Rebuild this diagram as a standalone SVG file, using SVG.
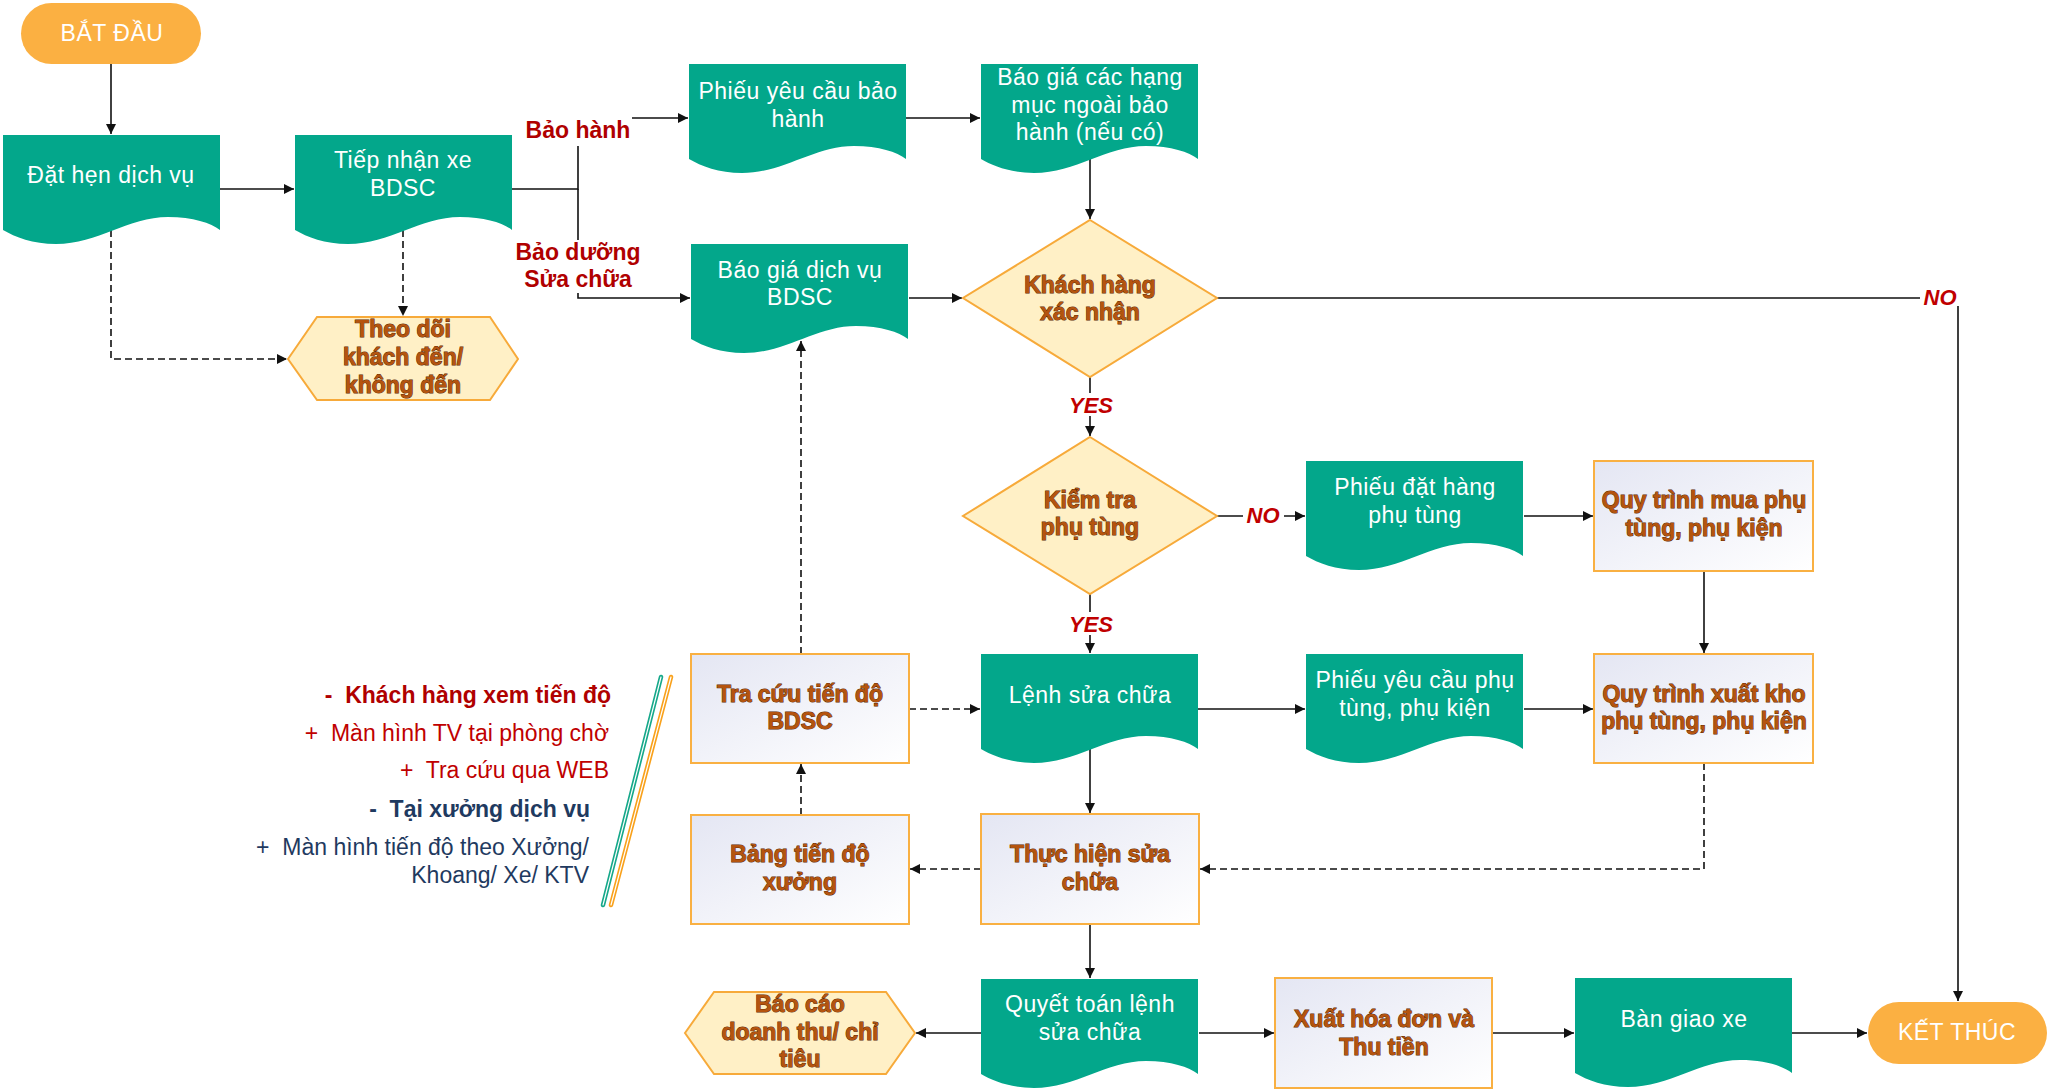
<svg xmlns="http://www.w3.org/2000/svg" xmlns:xlink="http://www.w3.org/1999/xlink" width="2049" height="1090" viewBox="0 0 2049 1090">
<style>
.doc{fill:#03A78B}
.box{fill:url(#boxg);stroke:#F9B042;stroke-width:2}
.dec{fill:#FFF0C6;stroke:#F7AA3A;stroke-width:2}
.pill{fill:#FBB042}
text{font-family:"Liberation Sans",Arial,sans-serif;font-size:23px;text-anchor:middle}
.tw{fill:#FFFFFF;letter-spacing:0.5px}
.tb{fill:#B5540E;font-weight:bold;stroke:#5C2A05;stroke-width:1;paint-order:stroke}
.lbl{fill:#B00000;font-weight:bold}
.yn{fill:#C00000;font-weight:bold;font-style:italic;font-size:22px}
.lg{text-anchor:end}
.red{fill:#C00000}
.navy{fill:#1F3A60}
.c{fill:none;stroke:#111;stroke-width:1.6;marker-end:url(#ah)}
.d{stroke-dasharray:7 4}
.bg{fill:#FFFFFF}
</style>
<defs>
<marker id="ah" markerUnits="userSpaceOnUse" markerWidth="11" markerHeight="10" refX="10" refY="5" orient="auto">
<path d="M0,0 L10,5 L0,10 Z" fill="#111"/>
</marker>
<linearGradient id="boxg" x1="0" y1="0" x2="1" y2="1">
<stop offset="0" stop-color="#E4E6F3"/>
<stop offset="1" stop-color="#FFFFFF"/>
</linearGradient>
<path id="doc" d="M0,0 H217 V95 C208,88 190,82 165,82 C125,82 95,109 53,109 C30,109 12,102 0,95 Z"/>
</defs>
<rect width="2049" height="1090" fill="#FFFFFF"/>

<g id="connectors">
<path class="c" d="M111,64 V134"/>
<path class="c" d="M220,189 H294"/>
<path class="c" d="M512,189 H578 V118 H688"/>
<path class="c" d="M578,189 V298 H690"/>
<path class="c" d="M906,118 H980"/>
<path class="c" d="M1090,159 V219"/>
<path class="c" d="M909,298 H962"/>
<path class="c" d="M1217,298 H1958 V1001"/>
<path class="c" d="M1090,377 V436"/>
<path class="c" d="M1217,516 H1305"/>
<path class="c" d="M1090,594 V653"/>
<path class="c" d="M1524,516 H1593"/>
<path class="c" d="M1704,571 V653"/>
<path class="c" d="M1198,709 H1305"/>
<path class="c" d="M1524,709 H1593"/>
<path class="c d" d="M909,709 H980"/>
<path class="c d" d="M801,654 V341"/>
<path class="c" d="M1090,749 V813"/>
<path class="c d" d="M801,815 V764"/>
<path class="c d" d="M981,869 H910"/>
<path class="c d" d="M1704,763 V869 H1200"/>
<path class="c" d="M1090,924 V978"/>
<path class="c" d="M981,1033 H916"/>
<path class="c" d="M1199,1033 H1274"/>
<path class="c" d="M1492,1033 H1574"/>
<path class="c" d="M1792,1033 H1867"/>
<path class="c d" d="M111,230 V359 H287"/>
<path class="c d" d="M403,230 V316"/>
<g id="label-baohanh">
<rect class="bg" x="524" y="112" width="108" height="34"/>
<text class="lbl" x="578" y="138">Bảo hành</text>
</g>
<g id="label-baoduong">
<rect class="bg" x="513" y="240" width="131" height="53"/>
<text class="lbl" x="578" y="260">Bảo dưỡng</text>
<text class="lbl" x="578" y="287">Sửa chữa</text>
</g>
<g id="label-no1">
<rect class="bg" x="1920" y="286" width="42" height="20"/>
<text class="yn" x="1940" y="305">NO</text>
</g>
<g id="label-yes1">
<rect class="bg" x="1066" y="393" width="50" height="23"/>
<text class="yn" x="1091" y="413">YES</text>
</g>
<g id="label-no2">
<rect class="bg" x="1243" y="503" width="41" height="22"/>
<text class="yn" x="1263" y="523">NO</text>
</g>
<g id="label-yes2">
<rect class="bg" x="1066" y="612" width="50" height="23"/>
<text class="yn" x="1091" y="632">YES</text>
</g>
</g>

<g id="n-batdau">
<rect class="pill" x="21" y="3" width="180" height="61" rx="30.5"/>
<text class="tw" x="112" y="41">BẮT ĐẦU</text>
</g>
<g id="n-dathen">
<use href="#doc" xlink:href="#doc" class="doc" x="3" y="135"/>
<text class="tw" x="111" y="183">Đặt hẹn dịch vụ</text>
</g>
<g id="n-tiepnhan">
<use href="#doc" xlink:href="#doc" class="doc" x="295" y="135"/>
<text class="tw" x="403" y="168">Tiếp nhận xe</text>
<text class="tw" x="403" y="196">BDSC</text>
</g>
<g id="n-theodoi">
<polygon class="dec" points="288,359 317,317 490,317 518,359 490,400 317,400"/>
<text class="tb" x="403" y="337">Theo dõi</text>
<text class="tb" x="403" y="365">khách đến/</text>
<text class="tb" x="403" y="393">không đến</text>
</g>
<g id="n-phieubaohanh">
<use href="#doc" xlink:href="#doc" class="doc" x="689" y="64"/>
<text class="tw" x="798" y="99">Phiếu yêu cầu bảo</text>
<text class="tw" x="798" y="127">hành</text>
</g>
<g id="n-baogiangoai">
<use href="#doc" xlink:href="#doc" class="doc" x="981" y="64"/>
<text class="tw" x="1090" y="85">Báo giá các hạng</text>
<text class="tw" x="1090" y="113">mục ngoài bảo</text>
<text class="tw" x="1090" y="140">hành (nếu có)</text>
</g>
<g id="n-baogiadv">
<use href="#doc" xlink:href="#doc" class="doc" x="691" y="244"/>
<text class="tw" x="800" y="278">Báo giá dịch vụ</text>
<text class="tw" x="800" y="305">BDSC</text>
</g>
<g id="n-khachhang">
<polygon class="dec" points="1090,220 1217,298 1090,377 963,298"/>
<text class="tb" x="1090" y="293">Khách hàng</text>
<text class="tb" x="1090" y="320">xác nhận</text>
</g>
<g id="n-kiemtra">
<polygon class="dec" points="1090,437 1217,516 1090,594 963,516"/>
<text class="tb" x="1090" y="508">Kiểm tra</text>
<text class="tb" x="1090" y="535">phụ tùng</text>
</g>
<g id="n-phieudathang">
<use href="#doc" xlink:href="#doc" class="doc" x="1306" y="461"/>
<text class="tw" x="1415" y="495">Phiếu đặt hàng</text>
<text class="tw" x="1415" y="523">phụ tùng</text>
</g>
<g id="n-quytrinhmua">
<rect class="box" x="1594" y="461" width="219" height="110"/>
<text class="tb" x="1704" y="508">Quy trình mua phụ</text>
<text class="tb" x="1704" y="536">tùng, phụ kiện</text>
</g>
<g id="n-tracuu">
<rect class="box" x="691" y="654" width="218" height="109"/>
<text class="tb" x="800" y="702">Tra cứu tiến độ</text>
<text class="tb" x="800" y="729">BDSC</text>
</g>
<g id="n-lenh">
<use href="#doc" xlink:href="#doc" class="doc" x="981" y="654"/>
<text class="tw" x="1090" y="703">Lệnh sửa chữa</text>
</g>
<g id="n-phieuyeucaupt">
<use href="#doc" xlink:href="#doc" class="doc" x="1306" y="654"/>
<text class="tw" x="1415" y="688">Phiếu yêu cầu phụ</text>
<text class="tw" x="1415" y="716">tùng, phụ kiện</text>
</g>
<g id="n-quytrinhxuat">
<rect class="box" x="1594" y="654" width="219" height="109"/>
<text class="tb" x="1704" y="702">Quy trình xuất kho</text>
<text class="tb" x="1704" y="729">phụ tùng, phụ kiện</text>
</g>
<g id="n-bangtiendo">
<rect class="box" x="691" y="815" width="218" height="109"/>
<text class="tb" x="800" y="862">Bảng tiến độ</text>
<text class="tb" x="800" y="890">xưởng</text>
</g>
<g id="n-thuchien">
<rect class="box" x="981" y="814" width="218" height="110"/>
<text class="tb" x="1090" y="862">Thực hiện sửa</text>
<text class="tb" x="1090" y="890">chữa</text>
</g>
<g id="n-baocao">
<polygon class="dec" points="685,1033 714,992 886,992 915,1033 886,1074 714,1074"/>
<text class="tb" x="800" y="1012">Báo cáo</text>
<text class="tb" x="800" y="1040">doanh thu/ chỉ</text>
<text class="tb" x="800" y="1067">tiêu</text>
</g>
<g id="n-quyettoan">
<use href="#doc" xlink:href="#doc" class="doc" x="981" y="979"/>
<text class="tw" x="1090" y="1012">Quyết toán lệnh</text>
<text class="tw" x="1090" y="1040">sửa chữa</text>
</g>
<g id="n-xuathoadon">
<rect class="box" x="1275" y="978" width="217" height="110"/>
<text class="tb" x="1384" y="1027">Xuất hóa đơn và</text>
<text class="tb" x="1384" y="1055">Thu tiền</text>
</g>
<g id="n-bangiao">
<use href="#doc" xlink:href="#doc" class="doc" x="1575" y="978"/>
<text class="tw" x="1684" y="1027">Bàn giao xe</text>
</g>
<g id="n-ketthuc">
<rect class="pill" x="1868" y="1002" width="179" height="62" rx="31"/>
<text class="tw" x="1957" y="1040">KẾT THÚC</text>
</g>

<g id="legend">
<text class="lg lbl" x="611" y="703">-&#160; Khách hàng xem tiến độ</text>
<text class="lg red" x="609" y="741">+&#160; Màn hình TV tại phòng chờ</text>
<text class="lg red" x="609" y="778">+&#160; Tra cứu qua WEB</text>
<text class="lg navy" x="590" y="817" font-weight="bold">-&#160; Tại xưởng dịch vụ</text>
<text class="lg navy" x="589" y="855">+&#160; Màn hình tiến độ theo Xưởng/</text>
<text class="lg navy" x="589" y="883">Khoang/ Xe/ KTV</text>
<g stroke-linecap="round">
<line x1="661" y1="677" x2="603" y2="905" stroke="#16A88A" stroke-width="4.5"/>
<line x1="661" y1="677" x2="603" y2="905" stroke="#FFFFFF" stroke-width="1.2"/>
<line x1="671" y1="677" x2="611" y2="905" stroke="#F9A11B" stroke-width="4.5"/>
<line x1="671" y1="677" x2="611" y2="905" stroke="#FFFFFF" stroke-width="1.2"/>
</g>
</g>
</svg>
